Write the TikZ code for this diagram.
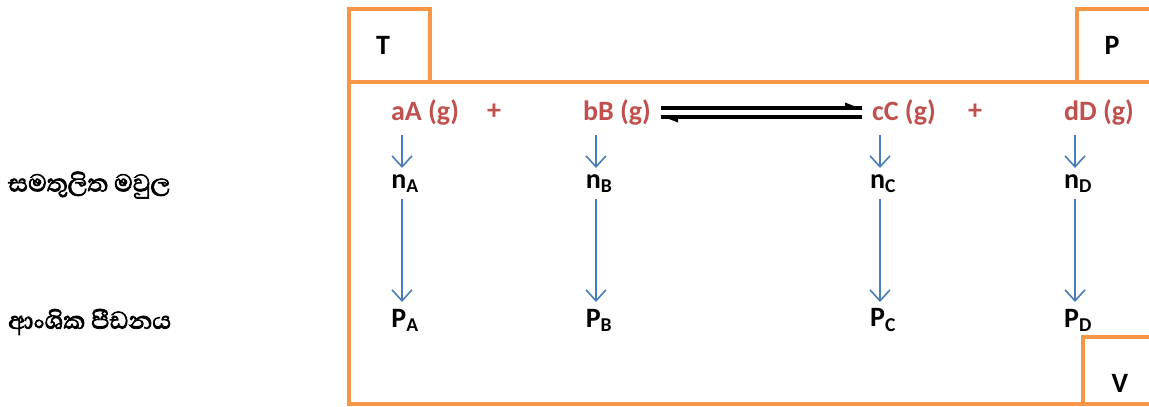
\documentclass[tikz,border=0pt]{standalone}
\usepackage{fontspec}
\setmainfont{Carlito}
\newfontfamily\sinhala[Script=Sinhala, AutoFakeBold=2.5]{Abhaya Libre}
\usetikzlibrary{arrows.meta}
\definecolor{frameor}{HTML}{F79646}
\definecolor{chemred}{HTML}{C0504D}
\definecolor{arrblue}{HTML}{4A7EBB}
\tikzset{
  frame/.style={draw=frameor, line width=3.5pt, line join=miter},
  chem/.style={text=chemred, font=\bfseries\fontsize{28}{32}\selectfont, inner sep=0pt},
  lbl/.style={font=\bfseries\fontsize{28}{32}\selectfont, inner sep=0pt},
  qty/.style={font=\bfseries\fontsize{28}{32}\selectfont, inner sep=0pt},
  sin/.style={font=\sinhala\bfseries\fontsize{31}{36}\selectfont, inner sep=0pt, anchor=west},
  barrow/.style={draw=arrblue, line width=1.6pt, -{Straight Barb[length=11pt, width=20pt, line width=1.6pt]}},
  eqline/.style={draw=black, line width=3.6pt},
}
\begin{document}
\begin{tikzpicture}[x=1pt, y=-1pt]
\useasboundingbox (0,0) rectangle (1149,407);
% frames
\draw[frame] (1160,82) -- (349,82) -- (349,404) -- (1160,404);
\draw[frame] (349,82) -- (349,9) -- (430,9) -- (430,82);
\draw[frame] (1160,9) -- (1077,9) -- (1077,82);
\draw[frame] (1160,337) -- (1083,337) -- (1083,404);
\node[lbl] (T) at (383,45) {T};
\node[lbl] (P) at (1112,45) {P};
\node[lbl] (V) at (1120,383) {V};
% equation
\node[chem] (A) at (425,112) {aA (g)};
\node[chem] (plus1) at (494,112) {+};
\node[chem] (B) at (617,112) {bB (g)};
\node[chem] (C) at (904,112) {cC (g)};
\node[chem] (plus2) at (975,112) {+};
\node[chem] (D) at (1099,112) {dD (g)};
% equilibrium harpoons
\coordinate (f1) at (661,108);
\coordinate (f2) at (862,108);
\coordinate (r1) at (862,117);
\coordinate (r2) at (661,117);
\draw[eqline] (f1) -- (f2);
\draw[eqline] (r1) -- (r2);
\fill[black] (f2) ++(1,1.5) -- ++(-18,-7) -- ++(0,5.5) -- cycle;
\fill[black] (r2) ++(-1,-1.5) -- ++(18,7) -- ++(0,-5.5) -- cycle;
% quantities
\node[qty] (nA) at (405,184) {n\textsubscript{A}};
\node[qty] (nB) at (599,184) {n\textsubscript{B}};
\node[qty] (nC) at (883,184) {n\textsubscript{C}};
\node[qty] (nD) at (1078,184) {n\textsubscript{D}};
\node[qty] (PA) at (405,320) {P\textsubscript{A}};
\node[qty] (PB) at (599,320) {P\textsubscript{B}};
\node[qty] (PC) at (883,320) {P\textsubscript{C}};
\node[qty] (PD) at (1078,320) {P\textsubscript{D}};
% arrows
\coordinate (a1) at (402,135); \coordinate (a2) at (402,168);
\coordinate (b1) at (596,135); \coordinate (b2) at (596,168);
\coordinate (c1) at (880,135); \coordinate (c2) at (880,168);
\coordinate (d1) at (1075,135); \coordinate (d2) at (1075,168);
\draw[barrow] (a1) -- (a2);
\draw[barrow] (b1) -- (b2);
\draw[barrow] (c1) -- (c2);
\draw[barrow] (d1) -- (d2);
\draw[barrow] (402,199) -- (402,302);
\draw[barrow] (596,199) -- (596,302);
\draw[barrow] (880,199) -- (880,302);
\draw[barrow] (1075,199) -- (1075,302);
% sinhala labels
\node[sin] (s1) at (8,185) {සමතුලිත මවුල};
\node[sin] (s2) at (8,322) {ආංශික පීඩනය};
\end{tikzpicture}
\end{document}
